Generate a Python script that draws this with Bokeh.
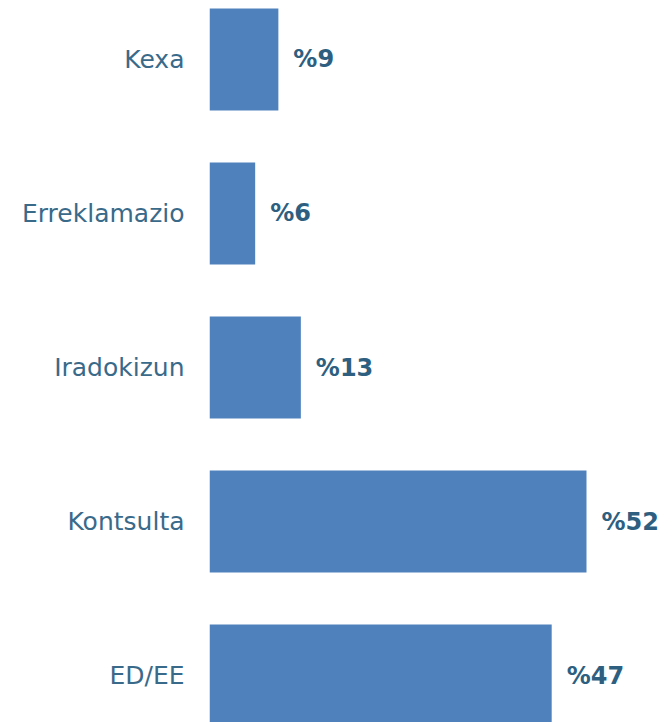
from bokeh.plotting import figure
from bokeh.models import ColumnDataSource, FixedTicker, Range1d
from bokeh.embed import file_html
from bokeh.resources import INLINE
from bokeh.core.properties import value

categories = ["Kexa", "Erreklamazio", "Iradokizun", "Kontsulta", "ED/EE"]
shares = [9.5, 6.3, 12.6, 52.0, 47.2]
share_labels = ["%9", "%6", "%13", "%52", "%47"]

n = len(categories)
ypos = [n - 1 - i for i in range(n)]
src = ColumnDataSource(dict(y=ypos, v=shares, lab=share_labels))

p = figure(width=664, height=722, output_backend="svg", toolbar_location=None,
           x_range=Range1d(0, 62.76), y_range=Range1d(-0.305, 4.383),
           min_border_left=209, min_border_right=0, min_border_top=0, min_border_bottom=0)
p.hbar(y="y", right="v", left=0, height=0.662, source=src, color="#4F81BD", line_color=None)
p.text(x="v", y="y", text="lab", source=src, x_offset=15, text_align="left", text_baseline="middle",
       text_font=value("DejaVu Sans"), text_font_style="bold", text_font_size="24px", text_color="#2E5F80")

p.xaxis.visible = False
p.grid.visible = False
p.outline_line_color = None
yax = p.yaxis[0]
yax.ticker = FixedTicker(ticks=ypos)
yax.major_label_overrides = {y: c for y, c in zip(ypos, categories)}
yax.major_tick_line_color = None
yax.minor_tick_line_color = None
yax.axis_line_color = None
yax.major_label_standoff = 19
yax.major_label_text_font = "DejaVu Sans"
yax.major_label_text_font_size = "25px"
yax.major_label_text_color = "#3A6A8A"

open("out.html", "w").write(file_html(p, INLINE))
